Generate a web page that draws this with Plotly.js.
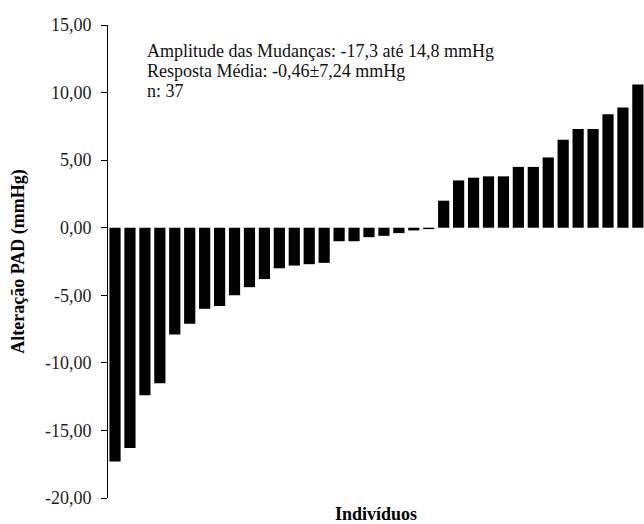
<!DOCTYPE html>
<html>
<head>
<meta charset="utf-8">
<script src="https://cdn.plot.ly/plotly-3.0.1.min.js"></script>
<style>html,body{margin:0;padding:0;background:#fff;overflow:hidden;}</style>
</head>
<body>
<div id="chart" style="width:644px;height:524px;"></div>
<script>
// Individuals (sorted by change)
const individuos = [1,2,3,4,5,6,7,8,9,10,11,12,13,14,15,16,17,18,19,20,21,22,23,24,25,26,27,28,29,30,31,32,33,34,35,36,37];
// Change in diastolic blood pressure (mmHg)
const alteracaoPAD = [-17.3,-16.3,-12.4,-11.5,-7.9,-7.1,-6.0,-5.8,-5.0,-4.4,-3.8,-3.0,-2.8,-2.7,-2.6,-1.0,-1.0,-0.7,-0.6,-0.4,-0.2,-0.1,
  2.0,3.5,3.7,3.8,3.8,4.5,4.5,5.2,6.5,7.3,7.3,8.4,8.9,10.6,14.8];
const yTicks = [-20,-15,-10,-5,0,5,10,15];
const yTickText = yTicks.map(v => v.toFixed(2).replace(".", ","));
const statLines = [
  "Amplitude das Mudanças: -17,3 até 14,8 mmHg",
  "Resposta Média: -0,46±7,24 mmHg",
  "n: 37"
];

const serif = "Liberation Serif, Times New Roman, serif";
const trace = {
  type: "bar",
  x: individuos,
  y: alteracaoPAD,
  marker: {color: "#000000", line: {width: 0}},
  hoverinfo: "y"
};
const statY = [0.944, 0.902, 0.860];
const layout = {
  width: 644, height: 524,
  margin: {l: 108, r: 0, t: 25, b: 26},
  paper_bgcolor: "#ffffff", plot_bgcolor: "#ffffff",
  bargap: 0.25,
  showlegend: false,
  font: {family: serif, size: 18, color: "#000"},
  xaxis: {
    range: [0.53, 36.41],
    showticklabels: false, ticks: "", showline: false,
    showgrid: false, zeroline: false,
    title: {text: "<b>Indivíduos</b>", font: {family: serif, size: 18, color: "#000"}}
  },
  yaxis: {
    range: [-20, 15],
    tickvals: yTicks, ticktext: yTickText,
    ticks: "outside", ticklen: 6, tickcolor: "#000", tickwidth: 1,
    ticklabelstandoff: 6,
    showline: true, linecolor: "#000", linewidth: 1,
    showgrid: false, zeroline: false,
    automargin: true,
    tickfont: {family: serif, size: 18, color: "#222"},
    title: {text: "<b>Alteração PAD (mmHg)</b>", standoff: 15,
            font: {family: serif, size: 18, color: "#000"}}
  },
  annotations: statLines.map((t, i) => ({
    text: t, xref: "paper", yref: "paper", x: 0.069, y: statY[i],
    xanchor: "left", yanchor: "middle", showarrow: false,
    font: {family: serif, size: 18, color: "#111"}
  }))
};
Plotly.newPlot("chart", [trace], layout, {displayModeBar: false, staticPlot: true});
</script>
</body>
</html>
